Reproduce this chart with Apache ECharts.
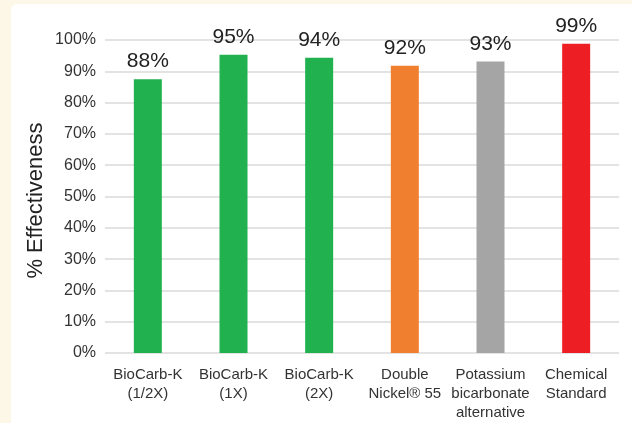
<!DOCTYPE html>
<html>
<head>
<meta charset="utf-8">
<script src="https://cdn.jsdelivr.net/npm/echarts@6/dist/echarts.min.js"></script>
<style>
  html, body { margin: 0; padding: 0; width: 632px; height: 423px; overflow: hidden; background: #FDF7E7; }
  #panel { position: absolute; left: 11px; top: 4px; width: 640px; height: 440px; background: #ffffff; border-radius: 6px; }
  #chart { position: absolute; left: 0; top: 0; width: 632px; height: 423px; }
</style>
</head>
<body>
<div id="panel"></div>
<div id="chart"></div>
<script>
const categories = ['BioCarb-K\n(1/2X)', 'BioCarb-K\n(1X)', 'BioCarb-K\n(2X)', 'Double\nNickel® 55', 'Potassium\nbicarbonate\nalternative', 'Chemical\nStandard'];
const values = [87.5, 95.3, 94.3, 91.8, 93.1, 98.8];
const valueLabels = ['88%', '95%', '94%', '92%', '93%', '99%'];
const barColors = ['#21B14F', '#21B14F', '#21B14F', '#F07F30', '#A5A5A5', '#EE1F24'];
const yTicks = [0, 10, 20, 30, 40, 50, 60, 70, 80, 90, 100];

const chart = echarts.init(document.getElementById('chart'), null, { renderer: 'canvas' });
const fontFamily = 'Liberation Sans, Arial, Helvetica, sans-serif';
chart.setOption({
  backgroundColor: 'transparent',
  animation: false,
  grid: { left: 105, right: 13, top: 40, bottom: 70, containLabel: false },
  xAxis: {
    type: 'category',
    data: categories,
    axisLine: { show: false },
    axisTick: { show: false },
    axisLabel: { color: '#333333', fontSize: 15, fontFamily: fontFamily, lineHeight: 19, margin: 12, interval: 0 }
  },
  yAxis: {
    type: 'value',
    min: yTicks[0],
    max: yTicks[yTicks.length - 1],
    interval: 10,
    name: '% Effectiveness',
    nameLocation: 'middle',
    nameGap: 58,
    nameMoveOverlap: false,
    nameTextStyle: { color: '#222222', fontSize: 22, fontFamily: fontFamily, padding: [0, 8, 0, 0] },
    axisLine: { show: false },
    axisTick: { show: false },
    axisLabel: { color: '#333333', fontSize: 16, fontFamily: fontFamily, margin: 9, formatter: v => v + '%' },
    splitLine: { lineStyle: { color: '#DADADA', width: 1.5 } }
  },
  series: [{
    type: 'bar',
    data: values.map((v, i) => ({ value: v, itemStyle: { color: barColors[i] } })),
    barWidth: 28,
    label: {
      show: true,
      position: 'top',
      distance: 7,
      color: '#222222',
      fontSize: 21,
      fontFamily: fontFamily,
      formatter: p => valueLabels[p.dataIndex]
    }
  }]
});
</script>
</body>
</html>
